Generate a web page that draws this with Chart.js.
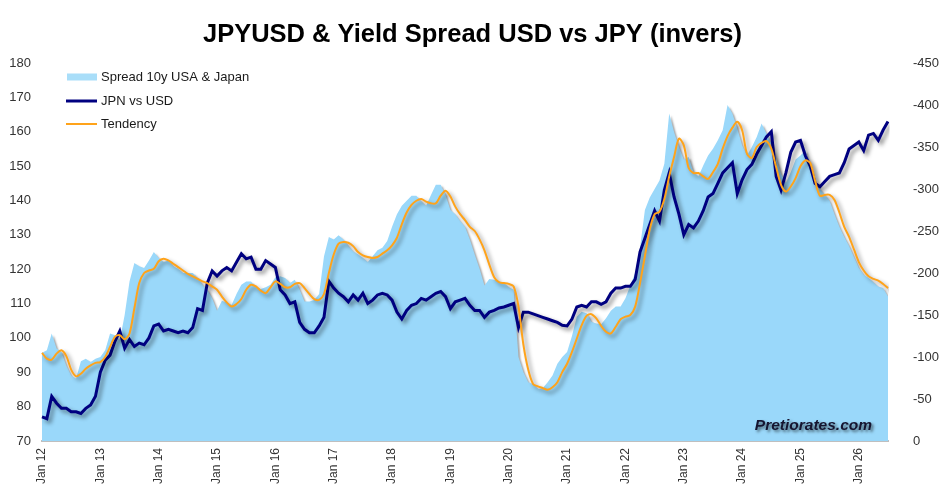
<!DOCTYPE html>
<html><head><meta charset="utf-8">
<script src="https://cdn.jsdelivr.net/npm/chart.js@4/dist/chart.umd.min.js"></script>
<style>html,body{margin:0;padding:0;background:#fff;}#wrap{width:945px;height:495px;position:relative;}</style>
</head><body><div id="wrap"><canvas id="c" width="945" height="495"></canvas></div>
<script>
// ---- DATA (monthly, Jan 2012 .. Jul 2026) ----
const years = [2012,2013,2014,2015,2016,2017,2018,2019,2020,2021,2022,2023,2024,2025,2026];
const lastYearMonths = 7;
const tickLabels = ['Jan 12','Jan 13','Jan 14','Jan 15','Jan 16','Jan 17','Jan 18','Jan 19','Jan 20','Jan 21','Jan 22','Jan 23','Jan 24','Jan 25','Jan 26'];
const leftTicks = [70,80,90,100,110,120,130,140,150,160,170,180];
const rightTicks = [0,-50,-100,-150,-200,-250,-300,-350,-400,-450];

const jpnVsUsd = [
 77,76.5,83,81,79.5,79.5,78.5,78.5,78,79.5,80.5,83,
 90,93.5,95,99,102,97,99.5,97.5,98.5,98,100,103.5,
 104,102,102.5,102,101.5,102,101.5,103,108.5,108,116,119.5,
 118,119.5,120.5,119.5,122,124.5,123,123.5,120,120,122.5,121.5,
 120.5,114,112.5,110,110.5,104.5,102.5,101.5,101.5,103.5,106,116.5,
 114.5,113,112,110.5,112.5,111,113,110,111,112.5,113,112.5,
 111,107.5,105.5,108,109.5,110,111.5,111,112,113,113.5,112,
 108.5,110.5,111,111.5,109.5,108,108,106,107.5,108,108.7,109,
 109.5,110,103,107.5,107.5,107,106.5,106,105.5,105,104.5,103.7,
 103.5,105.5,109,109.5,109,110.5,110.5,109.8,110.5,113,114.5,114.5,
 115,115,117,125,129,133,137,134,143,148,141,136,
 130,133,132,134,137,141,142,145,148,149.5,151,142,
 146,149,150.5,153.5,156,158.5,160,147,143,148,154,157,
 157.5,153,150,145,144,145.5,147,147.5,148,151,155,156,
 157,154.5,159,159.5,157.5,160.5,163
];
const spread10y = [
 -105,-108,-128,-110,-106,-90,-78,-74,-95,-98,-94,-98,
 -100,-108,-128,-126,-120,-150,-190,-212,-208,-206,-215,-225,
 -218,-213,-215,-208,-205,-200,-200,-200,-194,-186,-180,-170,
 -155,-167,-165,-162,-175,-186,-190,-190,-183,-181,-183,-186,
 -195,-196,-194,-188,-192,-180,-166,-166,-168,-175,-220,-243,
 -240,-245,-240,-232,-226,-222,-218,-213,-220,-227,-230,-238,
 -255,-270,-280,-286,-292,-292,-285,-280,-293,-305,-305,-293,
 -275,-270,-262,-255,-240,-222,-205,-185,-193,-192,-190,-188,
 -183,-180,-100,-82,-70,-68,-62,-63,-70,-78,-92,-100,
 -106,-125,-148,-154,-152,-142,-140,-139,-146,-155,-160,-160,
 -170,-185,-200,-230,-275,-290,-300,-310,-330,-390,-368,-350,
 -335,-338,-320,-315,-328,-340,-348,-358,-370,-400,-390,-372,
 -352,-340,-350,-362,-378,-366,-354,-336,-318,-307,-320,-335,
 -340,-346,-326,-306,-300,-293,-286,-270,-255,-243,-232,-219,
 -206,-198,-194,-189,-184,-182,-172
];
const tendency = [
 -105,-98,-97,-104,-108,-101,-85,-77,-80,-86,-90,-93,
 -94,-100,-112,-124,-126,-121,-128,-158,-188,-200,-203,-205,
 -214,-217,-215,-211,-207,-203,-199,-196,-193,-190,-188,-184,
 -180,-172,-165,-160,-163,-169,-180,-186,-184,-179,-176,-183,
 -190,-187,-183,-183,-187,-188,-182,-175,-169,-168,-175,-200,
 -222,-235,-237,-236,-232,-225,-221,-219,-218,-219,-223,-227,
 -233,-242,-258,-272,-281,-286,-288,-285,-283,-283,-292,-298,
 -291,-279,-270,-263,-255,-250,-240,-227,-210,-195,-189,-188,
 -187,-184,-160,-115,-85,-68,-65,-63,-61,-64,-70,-82,
 -92,-106,-122,-138,-149,-151,-146,-137,-130,-128,-136,-145,
 -148,-150,-160,-188,-220,-252,-270,-273,-288,-315,-338,-360,
 -352,-325,-319,-319,-315,-312,-320,-330,-348,-363,-373,-380,
 -370,-342,-337,-350,-355,-357,-348,-326,-305,-297,-303,-313,
 -327,-334,-331,-310,-292,-293,-293,-287,-272,-255,-243,-228,
 -213,-203,-196,-193,-191,-187,-182
];

// month categories
const categories = [];
years.forEach((y, yi) => {
  const n = (yi === years.length - 1) ? lastYearMonths : 12;
  for (let m = 0; m < n; m++) categories.push(y + '-' + String(m + 1).padStart(2, '0'));
});

const COL_SPREAD = '#9AD8FA';
const COL_NAVY = '#000080';
const COL_ORANGE = '#FFA31A';
const FONT = '"Liberation Sans", Arial, sans-serif';

const shadows = {
  id: 'shadows',
  beforeDatasetsDraw(chart) {
    const c = chart.ctx;
    c.save();
    c.shadowColor = 'rgba(0,0,0,0.35)';
    c.shadowOffsetX = 2; c.shadowOffsetY = 2; c.shadowBlur = 2;
  },
  beforeDatasetDraw(chart, args) {
    const c = chart.ctx;
    const ds = chart.data.datasets[args.index];
    if (ds.type === 'line' && !ds.fill) {
      c.shadowColor = 'rgba(0,0,0,0.45)';
      c.shadowOffsetX = 3; c.shadowOffsetY = 3; c.shadowBlur = 4;
    }
  },
  afterDatasetsDraw(chart) { chart.ctx.restore(); }
};

const overlay = {
  id: 'overlay',
  afterDraw(chart) {
    const c = chart.ctx, a = chart.chartArea;
    c.save();
    const x0 = a.left + 25, x1 = a.left + 55, tx = a.left + 59;
    const rows = [a.top + 14, a.top + 38, a.top + 61];
    c.fillStyle = '#A9DEF9';
    c.fillRect(x0, rows[0] - 3.5, x1 - x0, 7);
    c.lineCap = 'butt';
    c.strokeStyle = COL_NAVY; c.lineWidth = 3;
    c.beginPath(); c.moveTo(x0 - 1, rows[1]); c.lineTo(x1, rows[1]); c.stroke();
    c.strokeStyle = COL_ORANGE; c.lineWidth = 2;
    c.beginPath(); c.moveTo(x0 - 1, rows[2]); c.lineTo(x1, rows[2]); c.stroke();
    c.fillStyle = '#1a1a1a';
    c.font = '13px ' + FONT;
    c.textBaseline = 'middle'; c.textAlign = 'left';
    c.fillText('Spread 10y USA & Japan', tx, rows[0]);
    c.fillText('JPN vs USD', tx, rows[1]);
    c.fillText('Tendency', tx, rows[2]);
    // watermark
    c.font = 'italic bold 15.5px ' + FONT;
    c.textAlign = 'right'; c.textBaseline = 'alphabetic';
    c.shadowColor = 'rgba(0,0,0,0.55)';
    c.shadowOffsetX = 2; c.shadowOffsetY = 2; c.shadowBlur = 3;
    c.fillStyle = '#151530';
    c.fillText('Pretiorates.com', a.right - 16, a.bottom - 11);
    c.restore();
  }
};

new Chart(document.getElementById('c'), {
  data: {
    labels: categories,
    datasets: [
      { type: 'line', label: 'Tendency', data: tendency, yAxisID: 'y2', borderColor: COL_ORANGE, borderWidth: 2, pointRadius: 0, tension: 0.3, fill: false, order: 1 },
      { type: 'line', label: 'JPN vs USD', data: jpnVsUsd, yAxisID: 'y', borderColor: COL_NAVY, borderWidth: 3, pointRadius: 0, tension: 0, fill: false, order: 2 },
      { type: 'line', label: 'Spread 10y USA & Japan', data: spread10y, yAxisID: 'y2', borderWidth: 0, borderColor: 'rgba(0,0,0,0)', backgroundColor: COL_SPREAD, pointRadius: 0, tension: 0, fill: 'origin', order: 3 }
    ]
  },
  options: {
    responsive: false,
    animation: false,
    devicePixelRatio: 1,
    layout: { padding: { left: 0, right: 0, top: 0, bottom: 0 } },
    plugins: {
      legend: { display: false },
      tooltip: { enabled: false },
      title: {
        display: true,
        text: 'JPYUSD & Yield Spread USD vs JPY (invers)',
        color: '#000',
        font: { family: FONT, size: 25.5, weight: 'bold' },
        padding: { top: 20, bottom: 12.4 }
      }
    },
    scales: {
      x: {
        type: 'category',
        offset: false,
        grid: { display: false, drawTicks: false },
        border: { display: true, color: '#BFBFBF', width: 2 },
        ticks: {
          autoSkip: false, maxRotation: 90, minRotation: 90, padding: 7,
          color: '#333', font: { family: FONT, size: 12 },
          callback: (v, i) => (i % 12 === 0 ? tickLabels[i / 12] : '')
        },
        afterFit(s) { s.height = 54; s.paddingLeft = 0; s.paddingRight = 0; }
      },
      y: {
        position: 'left',
        min: leftTicks[0], max: leftTicks[leftTicks.length - 1],
        grid: { display: false, drawTicks: false },
        border: { display: false },
        ticks: { stepSize: 10, padding: 11, color: '#333', font: { family: FONT, size: 13 } },
        afterFit(s) { s.width = 42; }
      },
      y2: {
        position: 'right',
        min: rightTicks[rightTicks.length - 1], max: rightTicks[0],
        reverse: true,
        grid: { display: false, drawTicks: false },
        border: { display: false },
        ticks: { stepSize: 50, padding: 25, color: '#333', font: { family: FONT, size: 13 } },
        afterFit(s) { s.width = 57; }
      }
    }
  },
  plugins: [shadows, overlay]
});
</script>
</body></html>
